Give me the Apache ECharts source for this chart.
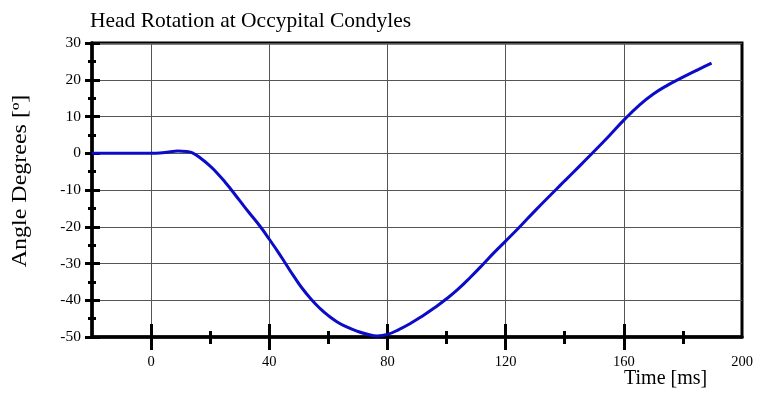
<!DOCTYPE html>
<html>
<head>
<meta charset="utf-8">
<script src="https://cdn.jsdelivr.net/npm/echarts@6/dist/echarts.min.js"></script>
<style>
html,body{margin:0;padding:0;background:#fff;}
#c{width:757px;height:394px;}
</style>
</head>
<body>
<div id="c"></div>
<script>
var titleText = 'Head Rotation at Occypital Condyles';
var xName = 'Time [ms]';
var yName = 'Angle Degrees [º]';
var xMajorTicks = [0, 40, 80, 120, 160];
var xMinorTicks = [20, 60, 100, 140, 180];
var xTickLabels = [0, 40, 80, 120, 160, 200];
var timeMs = [-20, -10, 0, 3, 6, 9, 12, 14, 17, 20, 22, 25, 27, 30, 33, 37, 40, 43, 45.5, 48, 51, 54.5, 57, 60, 63, 66, 70, 73, 76.5, 80, 84, 88, 92, 96, 100, 104, 108, 112.6, 116, 120, 124.8, 130, 136.9, 140, 145, 149.3, 155, 160, 165, 170, 175, 180, 185, 189.7];
var angleDeg = [0, 0, 0, 0.05, 0.35, 0.6, 0.45, 0.1, -1.5, -3.5, -5.1, -7.8, -9.8, -12.9, -16.0, -20, -23.4, -26.9, -30, -33.1, -36.6, -40, -42.1, -44.2, -45.9, -47.2, -48.5, -49.2, -49.7, -49.3, -47.9, -46.2, -44.2, -42, -39.6, -36.9, -33.8, -30, -27.1, -23.9, -20, -15.6, -10, -7.5, -3.5, 0, 4.7, 9.0, 12.9, 16.1, 18.6, 20.7, 22.7, 24.5];

var FONT = 'Liberation Serif';
var chart = echarts.init(document.getElementById('c'));
var seriesData = timeMs.map(function (t, i) { return [t, angleDeg[i]]; });

function xAx(opts) {
  var base = {
    type: 'value', min: -20, max: 200, position: 'bottom', gridIndex: 0,
    axisLine: { show: false, onZero: false },
    axisLabel: { show: false },
    splitLine: { show: false },
    axisTick: { show: false }
  };
  return Object.assign(base, opts);
}
function yAx(opts) {
  var base = {
    type: 'value', min: -50, max: 30, position: 'left', gridIndex: 0,
    axisLine: { show: false, onZero: false },
    axisLabel: { show: false },
    splitLine: { show: false },
    axisTick: { show: false }
  };
  return Object.assign(base, opts);
}

chart.setOption({
  backgroundColor: '#fff',
  animation: false,
  title: {
    text: titleText, left: 85, top: 5,
    textStyle: { fontFamily: FONT, fontSize: 21.5, fontWeight: 'normal', color: '#000' }
  },
  grid: {
    left: 92, right: 15, top: 43, bottom: 57,
    show: true, borderColor: '#000', borderWidth: 3, backgroundColor: '#fff'
  },
  xAxis: [
    xAx({
      axisLine: { show: true, onZero: false, lineStyle: { color: '#000', width: 3.5 } },
      axisLabel: { show: true, customValues: xTickLabels, margin: 18, color: '#000', fontFamily: FONT, fontSize: 14.5 },
      axisTick: { show: true, customValues: xMajorTicks, inside: true, length: 13, lineStyle: { color: '#000', width: 3 } },
      splitLine: { show: true, lineStyle: { color: '#555', width: 1 } }
    }),
    xAx({ axisTick: { show: true, customValues: xMajorTicks, inside: false, length: 13, lineStyle: { color: '#000', width: 3 } } }),
    xAx({ axisTick: { show: true, customValues: xMinorTicks, inside: true, length: 6, lineStyle: { color: '#000', width: 3 } } }),
    xAx({ axisTick: { show: true, customValues: xMinorTicks, inside: false, length: 7, lineStyle: { color: '#000', width: 3 } } })
  ],
  yAxis: [
    yAx({
      interval: 10,
      axisLine: { show: true, onZero: false, lineStyle: { color: '#000', width: 3.5 } },
      axisLabel: { show: true, margin: 11, color: '#000', fontFamily: FONT, fontSize: 15.5 },
      axisTick: { show: true, inside: false, length: 7, lineStyle: { color: '#000', width: 3 } },
      splitLine: { show: true, lineStyle: { color: '#555', width: 1 } }
    }),
    yAx({ interval: 10, axisTick: { show: true, inside: true, length: 8, lineStyle: { color: '#000', width: 3 } } }),
    yAx({ interval: 5, axisTick: { show: true, inside: true, length: 4, lineStyle: { color: '#000', width: 3 } } }),
    yAx({ interval: 5, axisTick: { show: true, inside: false, length: 4, lineStyle: { color: '#000', width: 3 } } })
  ],
  graphic: [
    { type: 'text', left: 624, top: 369, style: { text: xName, font: '20px "Liberation Serif"', fill: '#000' } },
    { type: 'text', x: 21, y: 181, rotation: Math.PI / 2, scaleX: 1.2,
      style: { text: yName, font: '20px "Liberation Serif"', fill: '#000', align: 'center', verticalAlign: 'middle' } }
  ],
  series: [{
    type: 'line', xAxisIndex: 0, yAxisIndex: 0,
    data: seriesData, smooth: 0.5, showSymbol: false, symbol: 'none',
    lineStyle: { color: '#0c0cc8', width: 3 }
  }]
});
</script>
</body>
</html>
